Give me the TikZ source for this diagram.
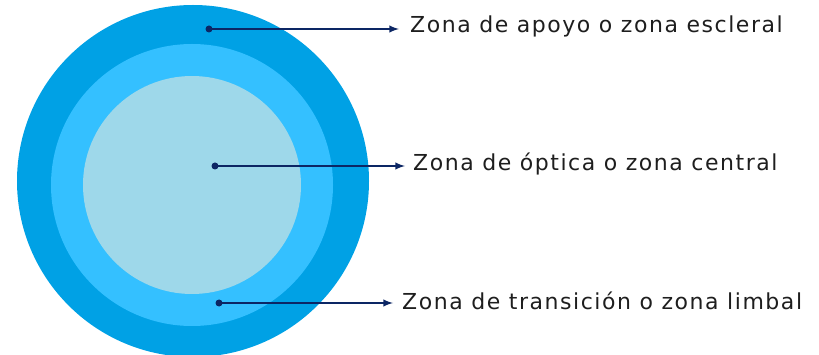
\documentclass[tikz,border=0pt]{standalone}
\usepackage{fontspec}
\setmainfont{DejaVu Sans}
\newfontfamily\etiqueta[LetterSpace=7]{DejaVu Sans}
\usepackage{tikz}
\usetikzlibrary{calc}
\usetikzlibrary{positioning}
\definecolor{escleral}{RGB}{0,161,229}
\definecolor{limbal}{RGB}{52,192,255}
\definecolor{optica}{RGB}{158,216,234}
\definecolor{flecha}{RGB}{12,38,100}
\definecolor{texto}{RGB}{30,30,30}

\begin{document}
\begin{tikzpicture}[x=1pt, y=-1pt]

\useasboundingbox (0,0) rectangle (819,355);

%% zones
\node at (193,181) [circle, fill=escleral, inner sep=0, minimum size=352pt] (zescleral) {};
\node at (192,185) [circle, fill=limbal, inner sep=0, minimum size=282pt] (zlimbal) {};
\node at (192,185) [circle, fill=optica, inner sep=0, minimum size=218pt] (zoptica) {};

%% end points
\node at (209,29) [circle, fill=flecha, inner sep=0, minimum size=7pt] (apoyodot) {};
\node at (215,166) [circle, fill=flecha, inner sep=0, minimum size=7pt] (opticadot) {};
\node at (219,303) [circle, fill=flecha, inner sep=0, minimum size=7pt] (limbaldot) {};

%% labels
\node at (399,33) [anchor=base west, text=texto, font=\etiqueta\fontsize{22}{25}\selectfont, inner xsep=11pt, inner ysep=0pt] (apoyo) {Zona de apoyo o zona escleral};
\node at (405,171) [anchor=base west, text=texto, font=\etiqueta\fontsize{22}{25}\selectfont, inner xsep=8pt, inner ysep=0pt] (optica) {Zona de óptica o zona central};
\node at (393,309) [anchor=base west, text=texto, font=\etiqueta\fontsize{22}{25}\selectfont, inner xsep=9pt, inner ysep=0pt] (limbal) {Zona de transición o zona limbal};

\begin{scope}[>=latex]
	\draw [flecha, line width=2.3pt, ->] (apoyodot.center) -- (apoyodot -| apoyo.west);
	\draw [flecha, line width=2.3pt, ->] (opticadot.center) -- (opticadot -| optica.west);
	\draw [flecha, line width=2.3pt, ->] (limbaldot.center) -- (limbaldot -| limbal.west);
\end{scope}

\end{tikzpicture}
\end{document}
